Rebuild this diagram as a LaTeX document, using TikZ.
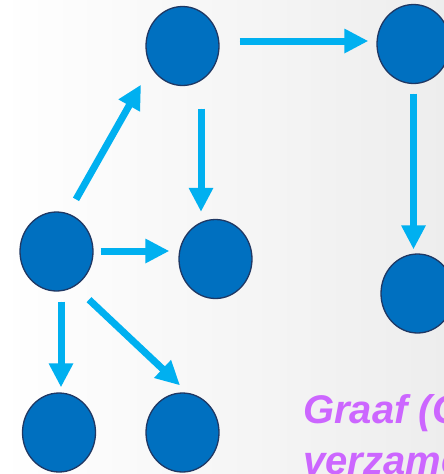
\documentclass[tikz,border=0pt]{standalone}
\usepackage{fontspec}
\newfontfamily\lsans{Liberation Sans}
\usetikzlibrary{shapes.geometric,arrows.meta,calc}
\definecolor{nodefill}{HTML}{0070C0}
\definecolor{nodeline}{HTML}{1F3864}
\definecolor{arrowcol}{HTML}{00B0F0}
\definecolor{textcol}{HTML}{CC66FF}
\begin{document}
\begin{tikzpicture}[x=1pt,y=-1pt,
  vertex/.style={ellipse, draw=nodeline, fill=nodefill, line width=1.3pt,
    minimum width=73pt, minimum height=79pt, inner sep=0pt},
  arr/.style={draw=arrowcol, line width=7pt,
    -{Triangle[width=23pt,length=24pt]}, fill=arrowcol},
  lbl/.style={anchor=base west, inner sep=0pt, text=textcol,
    font=\lsans\bfseries\itshape\fontsize{40}{48}\selectfont}]
\useasboundingbox (0,0) rectangle (444,474);
\clip (0,0) rectangle (444,474);
\shade[left color=white, right color=black!7, shading angle=90] (0,0) rectangle (444,474);
\node[vertex] (A) at (182.5,46) {};
\node[vertex] (B) at (413.5,44) {};
\node[vertex] (C) at (56.5,251.5) {};
\node[vertex] (D) at (215.5,259) {};
\node[vertex] (E) at (59,432.5) {};
\node[vertex] (F) at (182.5,432.5) {};
\node[vertex] (G) at (417.5,293.5) {};
\draw[arr] ($(A.east)+(20,-5)$) -- ($(B.west)+(-8,-3)$);
\draw[arr] ($(A.south)+(18.5,22.5)$) -- ($(D.north)+(-14.5,-7)$);
\draw[arr] ($(C.north)+(19.5,-12)$) -- ($(A.south)+(-41.5,-1.5)$);
\draw[arr] ($(C.east)+(7,-0.5)$) -- ($(D.west)+(-9,-8)$);
\draw[arr] ($(C.south)+(4.5,10)$) -- ($(E.north)+(2,-5)$);
\draw[arr] ($(C.south)+(32.5,8)$) -- ($(F.north)+(-2.5,-7)$);
\draw[arr] ($(B.south)+(0,9.5)$) -- ($(G.north)+(-4,-4)$);
\node[lbl] (t1) at (303,423) {Graaf (G)};
\node[lbl] (t2) at (303,474) {verzameling};
\end{tikzpicture}
\end{document}
